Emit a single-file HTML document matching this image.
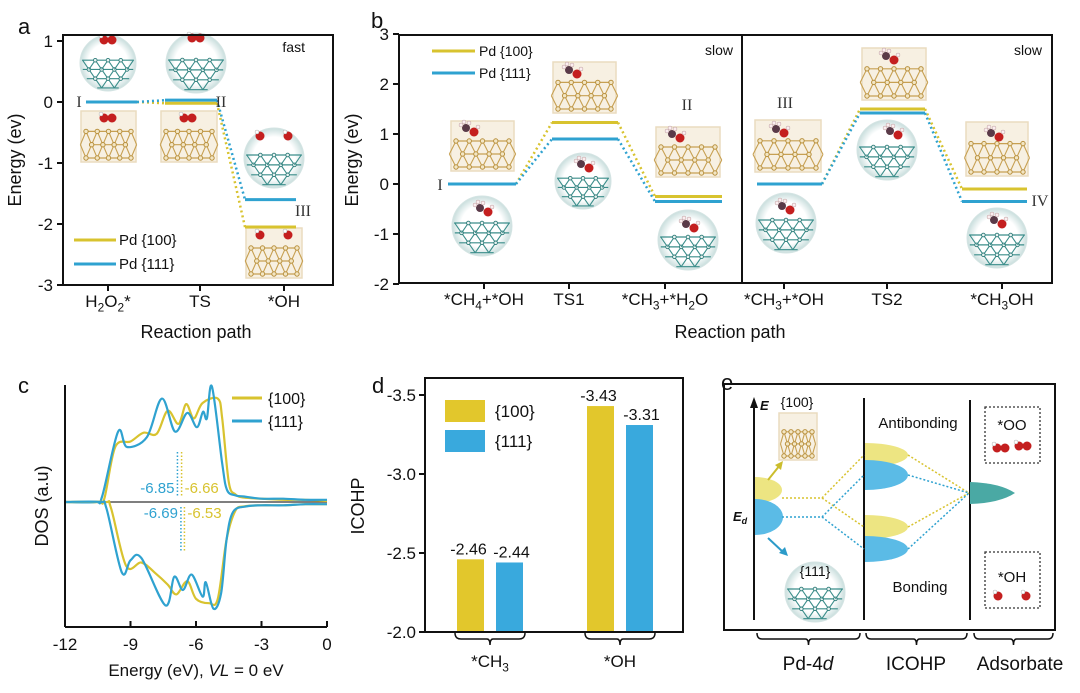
<!DOCTYPE html>
<html><head><meta charset="utf-8"><title>Pd facets energy / DOS / ICOHP figure</title>
<style>
html,body{margin:0;padding:0;background:#fff;}
svg{display:block;font-family:"Liberation Sans",Arial,sans-serif;}
</style></head>
<body>
<svg id="fig" width="1080" height="693" viewBox="0 0 1080 693" xmlns="http://www.w3.org/2000/svg">
<defs>
<radialGradient id="cg" cx="50%" cy="50%" r="50%"><stop offset="70%" stop-color="#ffffff"/><stop offset="100%" stop-color="#c9dedd"/></radialGradient>
</defs>
<g id="root"></g>
</svg>
<script>
// ---------------- data ----------------
// panel a
const catsA = ["H2O2*", "TS", "*OH"];
const levels100a = [0, -0.02, -2.05];
const levels111a = [0, 0.03, -1.6];
const ticksA = [1, 0, -1, -2, -3];
// panel b
const catsB = ["*CH4+*OH", "TS1", "*CH3+*H2O", "*CH3+*OH", "TS2", "*CH3OH"];
const levels100b = [0, 1.23, -0.25, 0, 1.5, -0.1];
const levels111b = [0, 0.9, -0.35, 0, 1.42, -0.35];
const ticksB = [3, 2, 1, 0, -1, -2];
// panel c (DOS)
const ticksC = [-12, -9, -6, -3, 0];
const dosE100up = [-12,-10.5,-10.2,-9.7,-9.0,-8.4,-7.8,-7.3,-6.8,-6.45,-6.1,-5.7,-5.0,-4.8,-4.5,-4.2,-3.8,-3,-2,-1,0];
const dos100up  = [0,0,0.3,5.0,5.5,6.3,6.2,8.3,7.1,8.9,7.6,9.0,9.4,7.6,1.8,0.7,0.4,0.3,0.2,0.2,0.1];
const dosE111up = [-12,-10.6,-10.3,-9.57,-9.16,-8.25,-7.56,-6.96,-6.4,-5.96,-5.68,-5.5,-5.27,-4.8,-4.58,-4.2,-3.8,-3,-2,-1,0];
const dos111up  = [0,0,0.5,6.4,5.0,5.9,9.4,6.4,8.1,6.8,8.2,7.6,10.5,3.5,1.1,0.6,0.5,0.3,0.3,0.2,0.2];
const dosE100dn = [-12,-10.2,-9.9,-9.2,-8.5,-7.9,-7.3,-6.9,-6.4,-6.0,-5.4,-5.0,-4.6,-4.2,-3.8,-3,-2,-1,0];
const dos100dn  = [0,0,-0.5,-5.8,-5.5,-6.4,-7.5,-8.4,-7.2,-8.8,-9.2,-8.8,-3.4,-0.8,-0.4,-0.3,-0.3,-0.2,-0.2];
const dosE111dn = [-12,-10.4,-10.1,-9.4,-9.0,-8.5,-7.4,-7.0,-6.6,-6.2,-5.7,-5.55,-5.2,-4.85,-4.6,-4.3,-3.7,-3,-2,-1,0];
const dos111dn  = [0,0,-0.6,-6.4,-5.3,-5.1,-9.4,-6.8,-8.0,-6.6,-8.6,-7.3,-9.7,-8.3,-3.4,-0.9,-0.4,-0.3,-0.3,-0.2,-0.2];
const dCenters = [-6.85, -6.66, -6.69, -6.53];
// panel d
const catsD = ["*CH3", "*OH"];
const icohp100 = [-2.46, -3.43];
const icohp111 = [-2.44, -3.31];
const ticksD = [-3.5, -3.0, -2.5, -2.0];

// ---------------- helpers ----------------
const NS = "http://www.w3.org/2000/svg";
const root = document.getElementById("root");
const Y = "#d8c32f", B = "#2fa2d0";
function mk(tag, attrs, parent) {
  const e = document.createElementNS(NS, tag);
  for (const k in attrs) e.setAttribute(k, attrs[k]);
  (parent || root).appendChild(e);
  return e;
}
function txt(x, y, s, size, anchor, parent, extra) {
  const t = mk("text", Object.assign({x: x, y: y, "font-size": size, "text-anchor": anchor || "start", fill: "#111"}, extra || {}), parent);
  t.textContent = s;
  return t;
}
function subtxt(x, y, parts, size, anchor, parent) {
  const t = mk("text", {x: x, y: y, "font-size": size, "text-anchor": anchor || "middle", fill: "#111"}, parent);
  parts.forEach(p => {
    const s = document.createElementNS(NS, "tspan");
    if (p[1]) { s.setAttribute("font-size", size * 0.7); s.setAttribute("dy", size * 0.25); }
    else if (p[2]) { s.setAttribute("dy", -size * 0.25); }
    s.textContent = p[0];
    t.appendChild(s);
  });
  return t;
}
function labelParts(s) {
  const parts = []; let prevSub = false;
  for (let i = 0; i < s.length; i++) {
    const c = s[i];
    const isSub = /[0-9]/.test(c) && i > 0 && /[A-RT-Za-z]/.test(s[i-1]);
    parts.push([c, isSub, prevSub && !isSub]);
    prevSub = isSub;
  }
  return parts;
}
function smoothPath(pts) {
  let d = "M" + pts[0][0].toFixed(1) + "," + pts[0][1].toFixed(1);
  for (let i = 0; i < pts.length - 1; i++) {
    const p0 = pts[i - 1] || pts[i], p1 = pts[i], p2 = pts[i + 1], p3 = pts[i + 2] || p2;
    const c1 = [p1[0] + (p2[0] - p0[0]) / 6, p1[1] + (p2[1] - p0[1]) / 6];
    const c2 = [p2[0] - (p3[0] - p1[0]) / 6, p2[1] - (p3[1] - p1[1]) / 6];
    d += " C" + c1.map(v=>v.toFixed(1)).join(",") + " " + c2.map(v=>v.toFixed(1)).join(",") + " " + p2[0].toFixed(1) + "," + p2[1].toFixed(1);
  }
  return d;
}
function latticeBox(x, y, w, h, parent, mol) {
  const g = mk("g", {}, parent);
  mk("rect", {x: x, y: y, width: w, height: h, fill: "#f7f0e2", stroke: "#eadcbf", "stroke-width": 1.5}, g);
  const top = y + h * 0.4, bot = y + h - 4, n = 4, rows = 3;
  const dx = (w - 10) / n, dy = (bot - top) / (rows - 1);
  const nodes = [];
  for (let r = 0; r < rows; r++) for (let i = 0; i <= n - (r % 2); i++) {
    nodes.push([x + 5 + i * dx + (r % 2) * dx / 2, top + r * dy]);
  }
  for (let r = 0; r < rows; r++) mk("line", {x1: x + 5 + (r%2)*dx/2, y1: top + r*dy, x2: x + w - 5 - (r%2)*dx/2, y2: top + r*dy, stroke: "#c7a052", "stroke-width": 1.2}, g);
  for (let i = 0; i <= n; i++) {
    const bx = x + 5 + i * dx;
    mk("line", {x1: bx, y1: top, x2: bx + dx/2, y2: top + dy, stroke: "#c7a052", "stroke-width": 1.1}, g);
    mk("line", {x1: bx, y1: top, x2: bx - dx/2, y2: top + dy, stroke: "#c7a052", "stroke-width": 1.1}, g);
    mk("line", {x1: bx, y1: bot, x2: bx + dx/2, y2: top + dy, stroke: "#c7a052", "stroke-width": 1.1}, g);
    mk("line", {x1: bx, y1: bot, x2: bx - dx/2, y2: top + dy, stroke: "#c7a052", "stroke-width": 1.1}, g);
  }
  nodes.forEach(p => { if (p[0] >= x + 3 && p[0] <= x + w - 3) mk("circle", {cx: p[0], cy: p[1], r: 2.2, fill: "#f3e6c4", stroke: "#b8903e", "stroke-width": 1}, g); });
  if (mol) molecule(mol[0], mol[1], mol[2], g);
  return g;
}
function latticeCircle(cx, cy, r, parent, mol) {
  const g = mk("g", {}, parent);
  mk("circle", {cx: cx, cy: cy, r: r, fill: "url(#cg)", stroke: "#d4e4e3", "stroke-width": 1}, g);
  const top = cy - r * 0.1, dx = r / 2.2, dy = r * 0.33;
  for (let row = 0; row < 4; row++) {
    const yy = top + row * dy;
    const half = Math.sqrt(Math.max(0, r * r - (yy - cy) * (yy - cy))) - 2;
    if (half <= 0) continue;
    mk("line", {x1: cx - half, y1: yy, x2: cx + half, y2: yy, stroke: "#3a8d8a", "stroke-width": 1.2}, g);
  }
  for (let i = -3; i <= 3; i++) {
    const bx = cx + i * dx;
    for (let row = 0; row < 3; row++) {
      const y1 = top + row * dy, y2 = y1 + dy, off = (row % 2) * dx / 2;
      [[bx + off, y1, bx + off + dx/2, y2], [bx + off, y1, bx + off - dx/2, y2]].forEach(l => {
        const inside = (px, py) => (px - cx) ** 2 + (py - cy) ** 2 < (r - 2) ** 2;
        if (inside(l[0], l[1]) && inside(l[2], l[3])) mk("line", {x1: l[0], y1: l[1], x2: l[2], y2: l[3], stroke: "#3a8d8a", "stroke-width": 1.1}, g);
      });
      if ((bx + off - cx) ** 2 + (y1 - cy) ** 2 < (r - 3) ** 2) mk("circle", {cx: bx + off, cy: y1, r: 1.8, fill: "#e9f3f2", stroke: "#2f7c79", "stroke-width": 0.9}, g);
    }
  }
  if (mol) molecule(mol[0], mol[1], mol[2], g);
  return g;
}
function molecule(x, y, type, parent) {
  if (type === "oo") { mk("circle", {cx: x - 4, cy: y, r: 4.5, fill: "#c41f1f"}, parent); mk("circle", {cx: x + 4, cy: y, r: 4.5, fill: "#c41f1f"}, parent); mk("circle", {cx: x - 7, cy: y - 4, r: 2, fill: "#fff", stroke: "#aaa", "stroke-width": 0.5}, parent); }
  else if (type === "oh2") { [-14, 14].forEach(o => { mk("circle", {cx: x + o, cy: y, r: 4.5, fill: "#c41f1f"}, parent); mk("circle", {cx: x + o - 3, cy: y - 4, r: 2, fill: "#fff", stroke: "#aaa", "stroke-width": 0.5}, parent); }); }
  else { mk("circle", {cx: x - 4, cy: y - 2, r: 4, fill: "#5a3a48"}, parent); mk("circle", {cx: x + 4, cy: y + 2, r: 4.5, fill: "#c41f1f"}, parent);
    [[-9,-5],[-6,-8],[-1,-7],[8,-3]].forEach(o => mk("circle", {cx: x + o[0], cy: y + o[1], r: 2, fill: "#fbeef0", stroke: "#b99", "stroke-width": 0.5}, parent)); }
}
function panelLetter(x, y, s) {
  const t = txt(x, y, s, 22, "start");
  
  
}

// ================= PANEL A =================
const gA = mk("g", {});


const aL = 63, aR = 333, aT = 35, aB = 285;
const ya = v => 102 - v * 61;
const xaSeg = [[86, 137], [165, 217], [245, 296]];
const xaTick = [108, 200, 284];
panelLetter(18, 34, "a");
latticeCircle(108, 63, 28, gA, [108, 40, "oo"]);
latticeCircle(196, 63, 30, gA, [196, 38, "oo"]);
latticeCircle(274, 158, 30, gA, [274, 136, "oh2"]);
latticeBox(81, 111, 55, 51, gA, [108, 118, "oo"]);
latticeBox(161, 111, 56, 51, gA, [188, 118, "oo"]);
latticeBox(246, 228, 56, 50, gA, [274, 235, "oh2"]);
[[levels100a, Y], [levels111a, B]].forEach(([lv, col], si) => {
  lv.forEach((v, i) => {
    const l = mk("line", {x1: xaSeg[i][0], x2: xaSeg[i][1], y1: ya(v), y2: ya(v), stroke: col, "stroke-width": 3}, gA);
    
    
    if (i < lv.length - 1) {
      const c = mk("line", {x1: xaSeg[i][1], y1: ya(v), x2: xaSeg[i+1][0], y2: ya(lv[i+1]), stroke: col, "stroke-width": 2.5, "stroke-dasharray": "2,3"}, gA);
      
      
    }
  });
});
[["I", 79, 107], ["II", 221, 107], ["III", 303, 216]].forEach(r => {
  const t = txt(r[1], r[2], r[0], 16, "middle", gA, {"font-family": "Liberation Serif, serif", fill: "#333"});
   
});
let t = txt(305, 52, "fast", 14, "end", gA);
 
[["Pd {100}", Y, 240], ["Pd {111}", B, 264]].forEach(l => {
  const g = mk("g", {}, gA);
   
  mk("line", {x1: 74, x2: 116, y1: l[2], y2: l[2], stroke: l[1], "stroke-width": 3}, g);
  txt(119, l[2] + 5, l[0], 15, "start", g);
});
mk("rect", {x: aL, y: aT, width: aR - aL, height: aB - aT, fill: "none", stroke: "#111", "stroke-width": 2}, gA);
ticksA.forEach(v => {
  mk("line", {x1: aL - 6, x2: aL, y1: ya(v), y2: ya(v), stroke: "#111", "stroke-width": 2}, gA);
  const tt = txt(aL - 10, ya(v) + 6, String(v), 17, "end", gA);
   
});
catsA.forEach((c, i) => {
  mk("line", {x1: xaTick[i], x2: xaTick[i], y1: aB, y2: aB + 6, stroke: "#111", "stroke-width": 2}, gA);
  const tt = subtxt(xaTick[i], 307, labelParts(c), 17, "middle", gA);
   
});
t = txt(196, 338, "Reaction path", 18, "middle", gA);
 
t = txt(0, 0, "Energy (ev)", 18, "middle", gA, {transform: "translate(21,160) rotate(-90)"});
 

// ================= PANEL B =================
const gB = mk("g", {});


const bL = 399, bR = 1052, bT = 35, bB = 283, bMid = 742;
const yb = v => 184 - v * 50;
const xbSeg = [[448, 516], [552, 618], [655, 722], [757, 822], [860, 925], [962, 1027]];
const xbTick = [484, 569, 665, 784, 887, 1002];
panelLetter(371, 28, "b");
latticeBox(451, 121, 63, 50, gB, [470, 130, "ch"]);
latticeCircle(482, 226, 30, gB, [484, 210, "ch"]);
latticeBox(553, 62, 63, 51, gB, [573, 72, "ch"]);
latticeCircle(583, 181, 28, gB, [585, 166, "ch"]);
latticeBox(656, 127, 64, 50, gB, [676, 136, "ch"]);
latticeCircle(688, 240, 30, gB, [690, 226, "ch"]);
latticeBox(755, 120, 66, 52, gB, [780, 131, "ch"]);
latticeCircle(786, 223, 30, gB, [786, 208, "ch"]);
latticeBox(862, 48, 64, 52, gB, [890, 58, "ch"]);
latticeCircle(887, 150, 30, gB, [894, 133, "ch"]);
latticeBox(966, 122, 62, 54, gB, [995, 135, "ch"]);
latticeCircle(997, 238, 30, gB, [998, 222, "ch"]);
[[levels100b, Y], [levels111b, B]].forEach(([lv, col], si) => {
  lv.forEach((v, i) => {
    const l = mk("line", {x1: xbSeg[i][0], x2: xbSeg[i][1], y1: yb(v), y2: yb(v), stroke: col, "stroke-width": 3}, gB);
    
    
    if (i < lv.length - 1 && i !== 2) {
      const c = mk("line", {x1: xbSeg[i][1], y1: yb(v), x2: xbSeg[i+1][0], y2: yb(lv[i+1]), stroke: col, "stroke-width": 2.5, "stroke-dasharray": "2,3"}, gB);
      
      
    }
  });
});
[["I", 440, 190], ["II", 687, 110], ["III", 785, 108], ["IV", 1040, 206]].forEach(r => {
  const tt = txt(r[1], r[2], r[0], 16, "middle", gB, {"font-family": "Liberation Serif, serif", fill: "#333"});
   
});
[733, 1042].forEach(x => {
  const tt = txt(x, 55, "slow", 14, "end", gB);
   
});
[["Pd {100}", Y, 51], ["Pd {111}", B, 73]].forEach(l => {
  const g = mk("g", {}, gB);
   
  mk("line", {x1: 432, x2: 475, y1: l[2], y2: l[2], stroke: l[1], "stroke-width": 3}, g);
  txt(479, l[2] + 5, l[0], 14, "start", g);
});
mk("rect", {x: bL, y: bT, width: bR - bL, height: bB - bT, fill: "none", stroke: "#111", "stroke-width": 2}, gB);
mk("line", {x1: bMid, x2: bMid, y1: bT, y2: bB, stroke: "#111", "stroke-width": 2}, gB);
ticksB.forEach(v => {
  mk("line", {x1: bL - 6, x2: bL, y1: yb(v), y2: yb(v), stroke: "#111", "stroke-width": 2}, gB);
  const tt = txt(bL - 10, yb(v) + 6, String(v), 17, "end", gB);
   
});
catsB.forEach((c, i) => {
  mk("line", {x1: xbTick[i], x2: xbTick[i], y1: bB, y2: bB + 6, stroke: "#111", "stroke-width": 2}, gB);
  const tt = subtxt(xbTick[i], 305, labelParts(c), 17, "middle", gB);
   
});
t = txt(730, 338, "Reaction path", 18, "middle", gB);
 
t = txt(0, 0, "Energy (ev)", 18, "middle", gB, {transform: "translate(358,160) rotate(-90)"});
 

// ================= PANEL C =================
const gC = mk("g", {});


const cL = 65, cR = 327, cT = 385, cB = 627;
const xc = e => cR + e * ((cR - cL) / 12);
const yc = d => 502 - d * 11;
panelLetter(18, 393, "c");
mk("line", {x1: cL, x2: cR, y1: yc(0), y2: yc(0), stroke: "#555", "stroke-width": 1.5}, gC);
[[dosE100up, dos100up, Y, "dos-100-spin-up"], [dosE111up, dos111up, B, "dos-111-spin-up"],
 [dosE100dn, dos100dn, Y, "dos-100-spin-down"], [dosE111dn, dos111dn, B, "dos-111-spin-down"]].forEach(s => {
  const pts = s[0].map((e, i) => [xc(e), yc(s[1][i])]);
  const p = mk("path", {d: smoothPath(pts), fill: "none", stroke: s[2], "stroke-width": 2.2}, gC);
  
  
});
[[dCenters[0], B, 452, 497], [dCenters[1], Y, 452, 497], [dCenters[2], B, 507, 552], [dCenters[3], Y, 507, 552]].forEach((d, i) => {
  const l = mk("line", {x1: xc(d[0]), x2: xc(d[0]), y1: d[2], y2: d[3], stroke: d[1], "stroke-width": 1.5, "stroke-dasharray": "1.5,2"}, gC);
   
});
[[dCenters[0], B, 493, "end", -3], [dCenters[1], Y, 493, "start", 3], [dCenters[2], B, 518, "end", -3], [dCenters[3], Y, 518, "start", 3]].forEach(d => {
  const tt = txt(xc(d[0]) + d[4], d[2], d[0].toFixed(2), 15, d[3], gC, {fill: d[1]});
   
});
[["{100}", Y, 398], ["{111}", B, 421]].forEach(l => {
  const g = mk("g", {}, gC);
   
  mk("line", {x1: 232, x2: 262, y1: l[2], y2: l[2], stroke: l[1], "stroke-width": 3}, g);
  txt(268, l[2] + 6, l[0], 16, "start", g);
});
mk("line", {x1: cL, x2: cL, y1: cT, y2: cB, stroke: "#111", "stroke-width": 2}, gC);
mk("line", {x1: cL, x2: cR, y1: cB, y2: cB, stroke: "#111", "stroke-width": 2}, gC);
ticksC.forEach(v => {
  mk("line", {x1: xc(v), x2: xc(v), y1: cB, y2: cB - 6, stroke: "#111", "stroke-width": 2}, gC);
  const tt = txt(xc(v), 650, String(v), 17, "middle", gC);
   
});
t = txt(196, 676, "", 17, "middle", gC);
t.innerHTML = 'Energy (eV), <tspan font-style="italic">VL</tspan> = 0 eV';
 
t = txt(0, 0, "DOS (a.u)", 18, "middle", gC, {transform: "translate(48,506) rotate(-90)"});
 

// ================= PANEL D =================
const gD = mk("g", {});


const dL = 425, dR = 683, dT = 378, dB = 632;
const yd = v => dB - (-v - 2) * 158;
const xdGroup = [490, 620];
const barW = 27, barGap = 6;
panelLetter(372, 393, "d");
catsD.forEach((c, i) => {
  [[icohp100[i], Y, -1, "100"], [icohp111[i], B, 1, "111"]].forEach(b => {
    const x0 = b[2] < 0 ? xdGroup[i] - barGap - barW : xdGroup[i] + barGap;
    const r = mk("rect", {x: x0, y: yd(b[0]), width: barW, height: dB - yd(b[0]), fill: b[1] === Y ? "#e2c72c" : "#39a9dd"}, gD);
    
    
    const tt = txt(x0 + barW / 2 + b[2] * 2, yd(b[0]) - 5, b[0].toFixed(2), 16, "middle", gD);
     
  });
  const x1 = xdGroup[i] - 35, x2 = xdGroup[i] + 35;
  mk("path", {d: `M${x1},${dB+1} q0,6 6,6 h${(x2-x1)/2-9} q3,0 3,6 q0,-6 3,-6 h${(x2-x1)/2-9} q6,0 6,-6`, fill: "none", stroke: "#111", "stroke-width": 1.5}, gD);
  const tt = subtxt(xdGroup[i], 667, labelParts(c), 17, "middle", gD);
   
});
[["{100}", "#e2c72c", 400], ["{111}", "#39a9dd", 430]].forEach(l => {
  const g = mk("g", {}, gD);
   
  mk("rect", {x: 445, y: l[2], width: 40, height: 22, fill: l[1]}, g);
  txt(495, l[2] + 17, l[0], 17, "start", g);
});
mk("rect", {x: dL, y: dT, width: dR - dL, height: dB - dT, fill: "none", stroke: "#111", "stroke-width": 2}, gD);
ticksD.forEach(v => {
  mk("line", {x1: dL - 6, x2: dL, y1: yd(v), y2: yd(v), stroke: "#111", "stroke-width": 2}, gD);
  const tt = txt(dL - 9, yd(v) + 6, v.toFixed(1), 17, "end", gD);
   
});
t = txt(0, 0, "ICOHP", 18, "middle", gD, {transform: "translate(364,506) rotate(-90)"});
 

// ================= PANEL E =================
const gE = mk("g", {});


panelLetter(721, 390, "e");
mk("rect", {x: 724, y: 384, width: 331, height: 246, fill: "none", stroke: "#111", "stroke-width": 2}, gE);
mk("line", {x1: 754, x2: 754, y1: 620, y2: 404, stroke: "#111", "stroke-width": 2}, gE);
mk("path", {d: "M750,408 L754,397 L758,408 Z", fill: "#111"}, gE);
mk("line", {x1: 864, x2: 864, y1: 398, y2: 620, stroke: "#111", "stroke-width": 2}, gE);
mk("line", {x1: 970, x2: 970, y1: 400, y2: 620, stroke: "#111", "stroke-width": 2}, gE);
txt(760, 410, "E", 13, "start", gE, {"font-style": "italic", "font-weight": "bold"});
t = txt(733, 521, "", 13, "start", gE, {"font-style": "italic", "font-weight": "bold"});
t.innerHTML = 'E<tspan font-size="9" dy="3">d</tspan>';
txt(797, 407, "{100}", 14, "middle", gE);
latticeBox(779, 413, 38, 47, gE);
latticeCircle(815, 592, 30, gE);
txt(815, 576, "{111}", 14, "middle", gE);
function halfE(cx, cy, rx, ry, fill, name) {
  const p = mk("path", {d: `M${cx},${cy-ry} A${rx},${ry} 0 0 1 ${cx},${cy+ry} Z`, fill: fill}, gE);
   
}
halfE(755, 490, 27, 13, "#ede582", "pd-4d-100-band");
halfE(755, 517, 28, 18, "#5bbbe6", "pd-4d-111-band");
halfE(865, 455, 43, 12, "#ede582", "antibonding-100");
halfE(865, 475, 43, 15, "#5bbbe6", "antibonding-111");
halfE(865, 527, 43, 12, "#ede582", "bonding-100");
halfE(865, 549, 43, 13, "#5bbbe6", "bonding-111");
const ad = mk("path", {d: "M970,482 Q1000,483 1015,493 Q1000,503 970,504 Z", fill: "#4aa9a4"}, gE);


const dl = (x1,y1,x2,y2,c) => mk("line", {x1:x1,y1:y1,x2:x2,y2:y2,stroke:c,"stroke-width":1.5,"stroke-dasharray":"2,2"}, gE);
dl(782,498,822,498,Y); dl(822,498,864,455,Y); dl(822,498,864,527,Y);
dl(782,517,822,517,B); dl(822,517,864,475,B); dl(822,517,864,549,B);
dl(908,455,969,493,Y); dl(908,475,969,493,B); dl(908,527,969,493,Y); dl(908,549,969,493,B);
mk("line", {x1: 768, y1: 480, x2: 780, y2: 465, stroke: "#cbbd2d", "stroke-width": 2}, gE);
mk("path", {d: "M783,461 L775,465 L781,470 Z", fill: "#cbbd2d"}, gE);
mk("line", {x1: 768, y1: 538, x2: 783, y2: 552, stroke: "#2c9bc9", "stroke-width": 2}, gE);
mk("path", {d: "M788,556 L779,553 L785,547 Z", fill: "#2c9bc9"}, gE);
txt(918, 428, "Antibonding", 15, "middle", gE);
txt(920, 592, "Bonding", 15, "middle", gE);
mk("rect", {x: 985, y: 407, width: 55, height: 56, fill: "none", stroke: "#333", "stroke-width": 1.3, "stroke-dasharray": "2,2"}, gE);
txt(1012, 430, "*OO", 15, "middle", gE);
molecule(1001, 448, "oo", gE); molecule(1023, 446, "oo", gE);
mk("rect", {x: 985, y: 552, width: 55, height: 56, fill: "none", stroke: "#333", "stroke-width": 1.3, "stroke-dasharray": "2,2"}, gE);
txt(1012, 582, "*OH", 15, "middle", gE);
molecule(1012, 596, "oh2", gE);
[[757, 860, "Pd-4", 808], [866, 967, "ICOHP", 916], [974, 1053, "Adsorbate", 1020]].forEach(b => {
  const x1 = b[0], x2 = b[1];
  mk("path", {d: `M${x1},${633} q0,6 5,6 h${(x2-x1)/2-8} q3,0 3,6 q0,-6 3,-6 h${(x2-x1)/2-8} q5,0 5,-6`, fill: "none", stroke: "#111", "stroke-width": 1.5}, gE);
  const tt = txt(b[3], 670, b[2], 19, "middle", gE);
  if (b[2] === "Pd-4") tt.innerHTML = 'Pd-4<tspan font-style="italic">d</tspan>';
   
});
</script>
</body></html>
